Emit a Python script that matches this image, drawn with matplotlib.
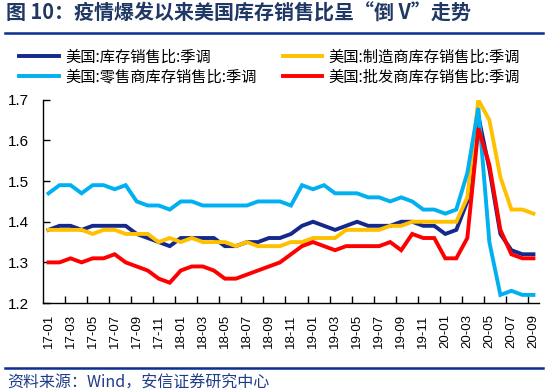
import matplotlib
matplotlib.use("Agg")
import matplotlib.pyplot as plt
from matplotlib.lines import Line2D
import numpy as np

plt.rcParams['font.family'] = ['Noto Sans CJK SC', 'DejaVu Sans']

# monthly, 17-01 .. 20-09
months = [f"{y:02d}-{m:02d}" for y in range(17, 21) for m in range(1, 13)][:45]

total = [1.38, 1.39, 1.39, 1.38, 1.39, 1.39, 1.39, 1.39, 1.37, 1.36,
         1.35, 1.34, 1.36, 1.36, 1.36, 1.36, 1.34, 1.34, 1.35, 1.35,
         1.36, 1.36, 1.37, 1.39, 1.40, 1.39, 1.38, 1.39, 1.40, 1.39,
         1.39, 1.39, 1.40, 1.40, 1.39, 1.39, 1.37, 1.38, 1.45, 1.66,
         1.53, 1.37, 1.33, 1.32, 1.32]
manuf = [1.38, 1.38, 1.38, 1.38, 1.37, 1.38, 1.38, 1.37, 1.37, 1.37,
         1.35, 1.36, 1.35, 1.36, 1.35, 1.35, 1.35, 1.34, 1.35, 1.34,
         1.34, 1.34, 1.35, 1.35, 1.36, 1.36, 1.36, 1.38, 1.38, 1.38,
         1.38, 1.39, 1.39, 1.40, 1.40, 1.40, 1.40, 1.40, 1.46, 1.70,
         1.65, 1.51, 1.43, 1.43, 1.42]
retail = [1.47, 1.49, 1.49, 1.47, 1.49, 1.49, 1.48, 1.49, 1.45, 1.44,
          1.44, 1.43, 1.45, 1.45, 1.44, 1.44, 1.44, 1.44, 1.44, 1.45,
          1.45, 1.45, 1.44, 1.49, 1.48, 1.49, 1.47, 1.47, 1.47, 1.46,
          1.46, 1.45, 1.46, 1.45, 1.43, 1.43, 1.42, 1.43, 1.52, 1.68,
          1.35, 1.22, 1.23, 1.22, 1.22]
wholesale = [1.30, 1.30, 1.31, 1.30, 1.31, 1.31, 1.32, 1.30, 1.29, 1.28,
             1.26, 1.25, 1.28, 1.29, 1.29, 1.28, 1.26, 1.26, 1.27, 1.28,
             1.29, 1.30, 1.32, 1.34, 1.35, 1.34, 1.33, 1.34, 1.34, 1.34,
             1.34, 1.35, 1.33, 1.37, 1.36, 1.36, 1.31, 1.31, 1.36, 1.63,
             1.54, 1.38, 1.32, 1.31, 1.31]

labels = ["美国:库存销售比:季调", "美国:制造商库存销售比:季调",
          "美国:零售商库存销售比:季调", "美国:批发商库存销售比:季调"]
colors = ["#15288C", "#FFC000", "#00B0F0", "#FF0000"]

fig = plt.figure(figsize=(5.48, 3.9), dpi=100)
ax = fig.add_axes([0.0785, 0.223, 0.905, 0.521])

x = np.arange(len(months))
lines = []
for ys, c, lab in zip([total, manuf, retail, wholesale], colors, labels):
    ln, = ax.plot(x, ys, color=c, lw=2.8, label=lab, solid_joinstyle='miter')
    lines.append(ln)

ax.set_xlim(-0.5, len(months) - 0.5)
ax.set_ylim(1.2, 1.7)
ax.set_yticks([1.2, 1.3, 1.4, 1.5, 1.6, 1.7])
ax.set_yticklabels(["1.2", "1.3", "1.4", "1.5", "1.6", "1.7"],
                   fontsize=11, family='Liberation Sans')
ax.set_xticks(x[::2])
ax.set_xticklabels(months[::2], rotation=90, fontsize=9.5, family='Liberation Sans')
ax.set_xticks(np.arange(1.5, len(months) - 1, 2), minor=True)
ax.tick_params(axis='x', which='major', length=0, pad=8)
ax.tick_params(axis='x', which='minor', direction='in', length=5, width=1)
ax.tick_params(axis='y', direction='in', length=5, width=1, pad=10)
for s in ['top', 'right']:
    ax.spines[s].set_visible(False)
for s in ['left', 'bottom']:
    ax.spines[s].set_linewidth(1)

legkw = dict(loc='upper left', frameon=False, fontsize=11, handlelength=2.6,
             handletextpad=0.4, labelspacing=0.2, borderaxespad=0, borderpad=0)
leg1 = fig.legend([lines[0], lines[2]], [labels[0], labels[2]],
                  bbox_to_anchor=(0.035, 0.875), **legkw)
leg2 = fig.legend([lines[1], lines[3]], [labels[1], labels[3]],
                  bbox_to_anchor=(0.516, 0.875), **legkw)

fig.text(0.011, 0.966, "图 10：疫情爆发以来美国库存销售比呈“倒 V”走势",
         fontsize=14.4, fontweight='bold', color="#1F3864", va='center', ha='left')
fig.add_artist(Line2D([0.01, 0.99], [0.915, 0.915], color="#0B2F8F", lw=1.8))
fig.add_artist(Line2D([0.01, 0.99], [0.056, 0.056], color="#0B2F8F", lw=1.8))
fig.text(0.013, 0.018, "资料来源：Wind，安信证券研究中心", fontsize=11.5,
         style='italic', color="#1F3C88", va='center', ha='left')

fig.savefig("out.png", dpi=100)
